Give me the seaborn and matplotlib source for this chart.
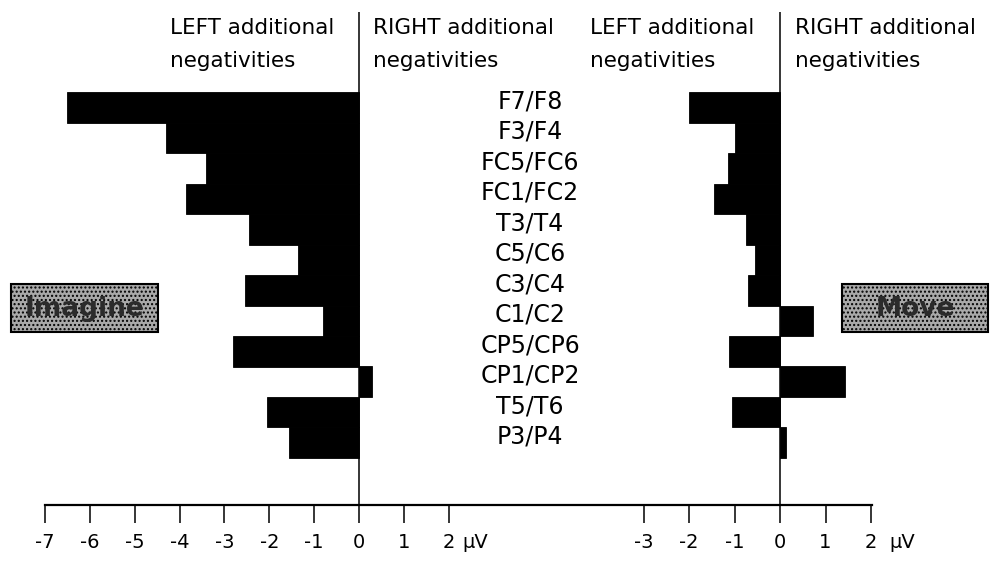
import matplotlib
matplotlib.use("Agg")
import matplotlib.pyplot as plt
import seaborn as sns
import pandas as pd
from matplotlib.patches import Rectangle

# ---- data ----
sites = ["F7/F8", "F3/F4", "FC5/FC6", "FC1/FC2", "T3/T4", "C5/C6",
         "C3/C4", "C1/C2", "CP5/CP6", "CP1/CP2", "T5/T6", "P3/P4"]
imagine_vals = [-6.5, -4.3, -3.4, -3.85, -2.45, -1.35, -2.55, -0.8, -2.8, 0.3, -2.05, -1.55]
move_vals = [-2.0, -1.0, -1.15, -1.45, -0.75, -0.55, -0.7, 0.72, -1.12, 1.42, -1.05, 0.13]
left_ticks = [-7, -6, -5, -4, -3, -2, -1, 0, 1, 2]
right_ticks = [-3, -2, -1, 0, 1, 2]
unit_label = "\u00b5V"
header_left = "LEFT additional\nnegativities"
header_right = "RIGHT additional\nnegativities"
box_left = "Imagine"
box_right = "Move"

sns.set_theme(style="white")
plt.rcParams["font.family"] = ["DejaVu Sans"]
plt.rcParams["axes.unicode_minus"] = False

W, H = 990, 563
fig = plt.figure(figsize=(W / 100, H / 100), dpi=100)
fig.patch.set_facecolor("white")

def fx(px):
    return px / W

def fy(py):
    return 1 - py / H

top_px, axis_px = 12, 505
# left panel axes: -7 at x=45, 0 at x=359, right edge at 872
L0, Lz, Rr = 45, 359, 872
scale1 = (Lz - L0) / 7.0
ax1 = fig.add_axes([fx(L0), fy(axis_px), fx(Rr - L0), (axis_px - top_px) / H])
# right panel axes: 0 at x=780
R_left, Rz = 600, 780
scale2 = 45.5
ax2 = fig.add_axes([fx(R_left), fy(axis_px), fx(Rr - R_left), (axis_px - top_px) / H])

df1 = pd.DataFrame({"site": sites, "value": imagine_vals})
df2 = pd.DataFrame({"site": sites, "value": move_vals})

sns.barplot(data=df1, x="value", y="site", orient="h", color="black",
            saturation=1, width=1.0, edgecolor="black", linewidth=0.6, ax=ax1)
sns.barplot(data=df2, x="value", y="site", orient="h", color="black",
            saturation=1, width=1.0, edgecolor="black", linewidth=0.6, ax=ax2)

row_h = 30.5
first_center = 92 + row_h / 2
rows_total = (axis_px - top_px) / row_h
ytop = -(first_center - top_px) / row_h
for ax in (ax1, ax2):
    ax.set_ylim(ytop + rows_total, ytop)
    ax.set_ylabel("")
    ax.set_xlabel("")
    ax.set_yticks([])
    ax.set_facecolor("none")
    for s in ["top", "right", "left"]:
        ax.spines[s].set_visible(False)
    ax.axvline(0, color="black", lw=1.1, zorder=3)
    ax.tick_params(axis="x", direction="out", length=13, width=1.1,
                   colors="black", labelsize=14, pad=7, bottom=True)

ax1.set_xlim(-7, (Rr - Lz) / scale1)
ax1.set_xticks(left_ticks)
ax1.set_xticklabels([str(t) for t in left_ticks])
ax1.spines["bottom"].set_color("black")
ax1.spines["bottom"].set_linewidth(1.6)

ax2.set_xlim(-(Rz - R_left) / scale2, (Rr - Rz) / scale2)
ax2.set_xticks(right_ticks)
ax2.set_xticklabels([str(t) for t in right_ticks])
ax2.spines["bottom"].set_visible(False)

# unit labels
fig.text(fx(462), fy(543), unit_label, ha="left", va="center", fontsize=14, color="black")
fig.text(fx(889), fy(543), unit_label, ha="left", va="center", fontsize=14, color="black")

# category labels, centred between the panels
lab_x = (530 - Lz) / scale1
for i, s in enumerate(sites):
    ax1.text(lab_x, i - 0.2, s, ha="center", va="center", fontsize=17, color="black")

# headers
hdr_kw = dict(ha="left", va="top", fontsize=15.5, color="black", linespacing=1.82)
fig.text(fx(170), fy(18), header_left, **hdr_kw)
fig.text(fx(373), fy(18), header_right, **hdr_kw)
fig.text(fx(590), fy(18), header_left, **hdr_kw)
fig.text(fx(795), fy(18), header_right, **hdr_kw)

# condition boxes
for (x0, x1, txt) in [(11, 158, box_left), (842, 988, box_right)]:
    y0, y1 = 284, 332
    fig.add_artist(Rectangle((fx(x0), fy(y1)), fx(x1 - x0), (y1 - y0) / H,
                             transform=fig.transFigure, facecolor="#a9a9a9",
                             edgecolor="black", linewidth=1.5, hatch="....",
                             zorder=5))
    fig.text(fx((x0 + x1) / 2), fy((y0 + y1) / 2 + 1), txt, ha="center", va="center",
             fontsize=19, fontweight="bold", color="#2b2b2b", zorder=6)

fig.savefig("out.png", dpi=100, facecolor="white")
